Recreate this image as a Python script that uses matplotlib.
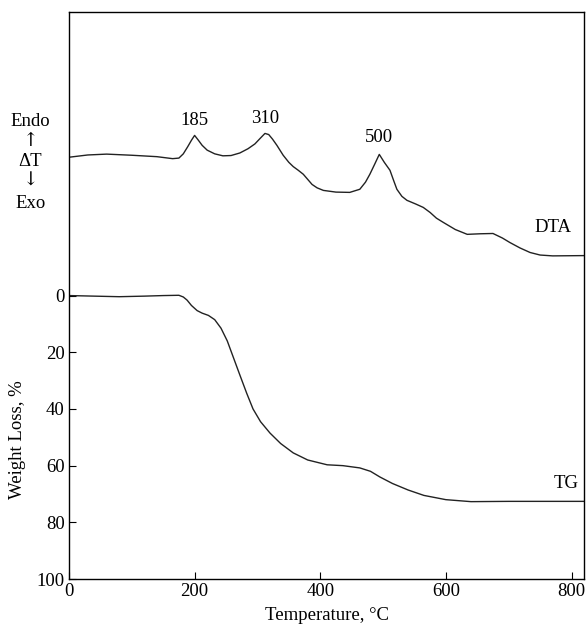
import matplotlib
matplotlib.use("Agg")
from matplotlib import pyplot as plt

plt.rcParams['font.family'] = ['Liberation Serif', 'DejaVu Serif']
plt.rcParams['font.size'] = 13.5

# DTA curve (drawn on the inverted weight-loss scale, arbitrary units)
dta_temp = [0, 30, 60, 100, 140, 165, 175, 182, 189, 195, 200, 206, 212, 220,
            232, 245, 258, 272, 285, 296, 305, 312, 318, 324, 331, 341, 350,
            357, 365, 373, 380, 387, 395, 405, 425, 447, 463, 472, 479, 487,
            494, 502, 511, 517, 522, 530, 538, 552, 564, 575, 585, 596, 615,
            634, 655, 675, 690, 702, 718, 734, 750, 770, 820]
dta_val = [-48.8, -49.6, -49.9, -49.5, -49.0, -48.3, -48.5, -50.0, -52.5, -54.8,
           -56.5, -54.8, -53.0, -51.3, -50.0, -49.3, -49.4, -50.3, -51.8, -53.5,
           -55.6, -57.2, -56.8, -55.2, -53.0, -49.5, -47.0, -45.5, -44.2, -42.8,
           -41.0, -39.2, -38.0, -37.1, -36.5, -36.4, -37.5, -40.0, -42.8, -46.5,
           -49.8, -47.0, -44.2, -40.5, -37.5, -35.0, -33.6, -32.3, -31.1, -29.3,
           -27.3, -25.8, -23.3, -21.6, -21.8, -21.9, -20.3, -18.7, -16.8, -15.2,
           -14.3, -14.0, -14.1]

# TG curve
tg_temp = [0, 40, 80, 120, 150, 175, 182, 188, 195, 204, 212, 222, 232, 242,
           252, 262, 272, 283, 293, 305, 320, 337, 357, 380, 411, 436, 463,
           480, 495, 515, 540, 565, 600, 640, 700, 820]
tg_loss = [0.0, 0.2, 0.4, 0.2, 0.0, -0.1, 0.5, 1.6, 3.5, 5.3, 6.2, 7.0, 8.5,
           11.5, 16.0, 22.0, 28.0, 34.5, 40.0, 44.5, 48.5, 52.2, 55.5, 58.0,
           59.7, 60.0, 60.8, 62.0, 64.0, 66.3, 68.6, 70.5, 72.0, 72.7, 72.6, 72.6]

peak_labels = ['185', '310', '500']
peak_temp = [200, 312, 494]
peak_val = [-61.8, -62.5, -55.8]

fig = plt.figure(figsize=(5.87, 6.37), dpi=100)
ax = fig.add_axes([0.1175, 0.091, 0.8775, 0.89])

ax.plot(dta_temp, dta_val, color='#222222', lw=1.0, solid_joinstyle='round')
ax.plot(tg_temp, tg_loss, color='#222222', lw=1.0, solid_joinstyle='round')

for lab, t, v in zip(peak_labels, peak_temp, peak_val):
    ax.text(t, v, lab, ha='center', va='center')
ax.text(771, -24, 'DTA', ha='center', va='center')
ax.text(792, 66.4, 'TG', ha='center', va='center')

ax.set_xlim(0, 820)
ax.set_ylim(100, -100)
ax.set_xticks([0, 200, 400, 600, 800])
ax.set_yticks([0, 20, 40, 60, 80, 100])
ax.tick_params(direction='in', length=5, width=0.8, labelsize=13.5, pad=3)
for s in ax.spines.values():
    s.set_linewidth(1.0)

ax.set_xlabel('Temperature, °C', labelpad=5)
fig.text(0.03, 1 - 440 / 637, 'Weight Loss, %', rotation=90,
         ha='center', va='center')

# Endo / Exo indicator
fig.text(0.052, 1 - 121 / 637, 'Endo', ha='center', va='center')
fig.text(0.052, 1 - 141 / 637, '↑', ha='center', va='center',
         family=['DejaVu Serif'])
fig.text(0.052, 1 - 161 / 637, 'ΔT', ha='center', va='center')
fig.text(0.052, 1 - 181 / 637, '↓', ha='center', va='center',
         family=['DejaVu Serif'])
fig.text(0.052, 1 - 203 / 637, 'Exo', ha='center', va='center')

fig.savefig('out.png', dpi=100)
